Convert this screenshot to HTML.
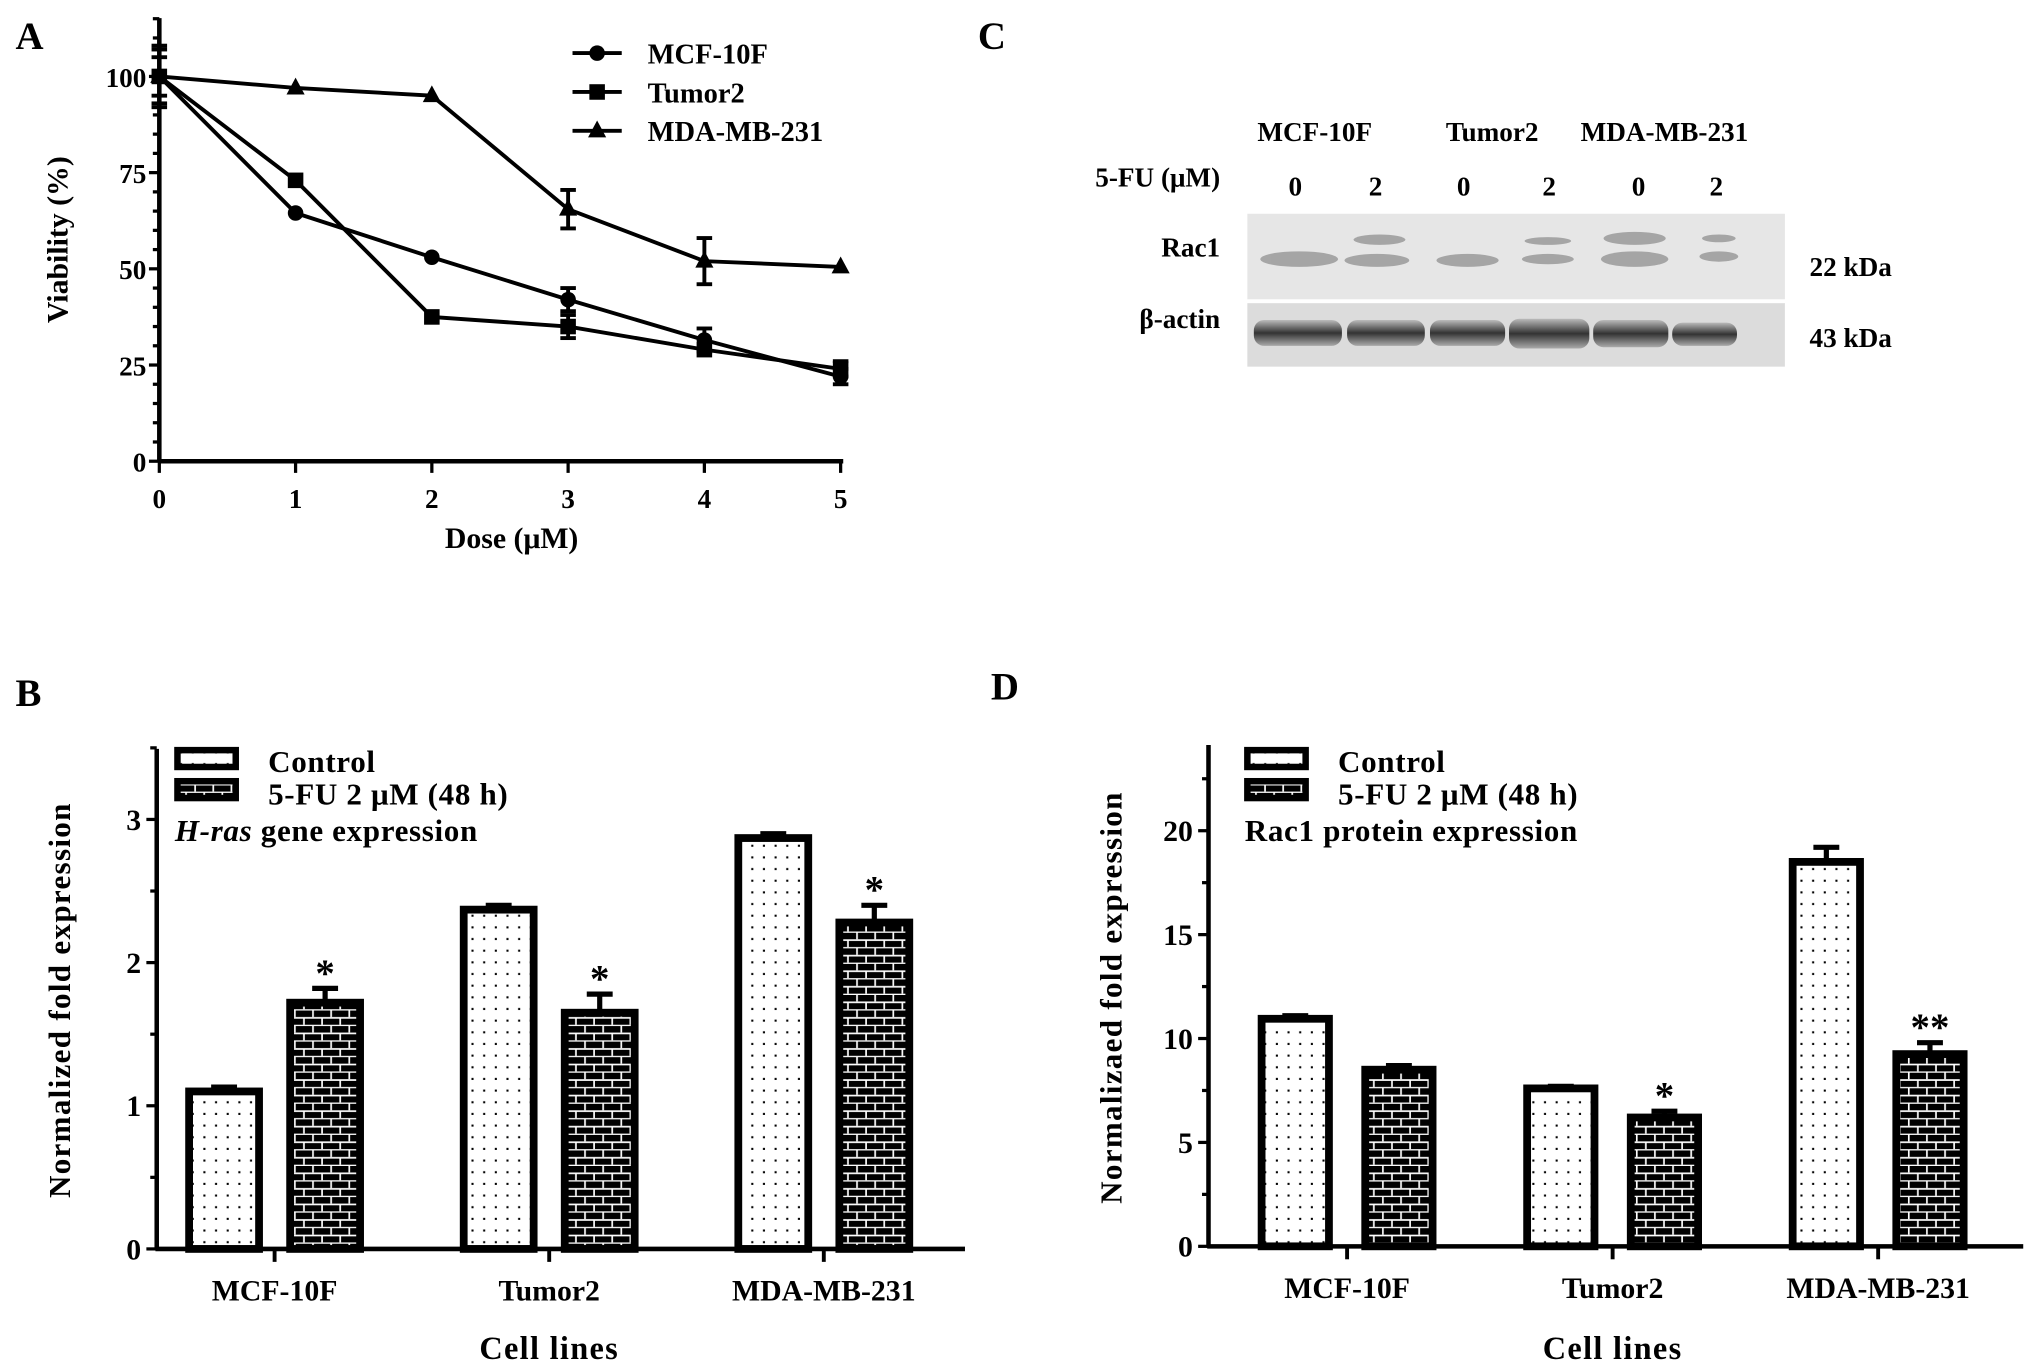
<!DOCTYPE html>
<html><head><meta charset="utf-8"><style>
html,body{margin:0;padding:0;background:#fff;}
svg{display:block;font-family:"Liberation Serif",serif;font-weight:bold;}
</style></head><body>
<svg id="fig" width="2031" height="1372" viewBox="0 0 1568 1059" preserveAspectRatio="none" xmlns="http://www.w3.org/2000/svg">
<defs>
<pattern id="dots" width="9" height="9" patternUnits="userSpaceOnUse"><rect width="9" height="9" fill="#fff"/><rect x="4" y="4" width="1.6" height="1.6" fill="#000"/></pattern>
<pattern id="brick" width="14" height="12" patternUnits="userSpaceOnUse"><rect width="14" height="12" fill="#000"/><rect x="0" y="5" width="14" height="1.3" fill="#fff"/><rect x="0" y="11" width="14" height="1.3" fill="#fff"/><rect x="3" y="0" width="1.3" height="5" fill="#fff"/><rect x="10" y="6" width="1.3" height="5" fill="#fff"/></pattern>
<linearGradient id="band" x1="0" y1="0" x2="0" y2="1"><stop offset="0" stop-color="#bbb"/><stop offset="0.5" stop-color="#333"/><stop offset="1" stop-color="#aaa"/></linearGradient>
</defs>
<text x="12" y="38" font-size="30">A</text>
<text x="755" y="38" font-size="30">C</text>
<text x="12" y="545" font-size="30">B</text>
<text x="765" y="540" font-size="30">D</text>
<g id="pa"></g>
<g id="pb"></g>
<g id="pd"></g>
<g id="pc">
<text x="1015" y="109" font-size="21" text-anchor="middle">MCF-10F</text>
<text x="1152" y="109" font-size="21" text-anchor="middle">Tumor2</text>
<text x="1285" y="109" font-size="21" text-anchor="middle">MDA-MB-231</text>
<text x="942" y="144" font-size="21" text-anchor="end">5-FU (μM)</text>
<g font-size="21" text-anchor="middle">
<text x="1000" y="151">0</text><text x="1062" y="151">2</text><text x="1130" y="151">0</text><text x="1196" y="151">2</text><text x="1265" y="151">0</text><text x="1325" y="151">2</text>
</g>
<rect x="963" y="165" width="415" height="66" fill="#e6e6e6"/>
<g fill="#8a8a8a" opacity="0.7">
<ellipse cx="1003" cy="200" rx="30" ry="6"/><ellipse cx="1063" cy="201" rx="25" ry="5"/><ellipse cx="1065" cy="185" rx="20" ry="4"/>
<ellipse cx="1133" cy="201" rx="24" ry="5"/><ellipse cx="1195" cy="200" rx="20" ry="4"/><ellipse cx="1195" cy="186" rx="18" ry="3"/>
<ellipse cx="1262" cy="200" rx="26" ry="6"/><ellipse cx="1262" cy="184" rx="24" ry="5"/><ellipse cx="1327" cy="198" rx="15" ry="4"/><ellipse cx="1327" cy="184" rx="13" ry="3"/>
</g>
<rect x="963" y="234" width="415" height="49" fill="#dcdcdc"/>
<g fill="url(#band)">
<rect x="968" y="247" width="68" height="20" rx="8"/><rect x="1040" y="247" width="60" height="20" rx="8"/><rect x="1104" y="247" width="58" height="20" rx="8"/>
<rect x="1165" y="246" width="62" height="23" rx="8"/><rect x="1230" y="247" width="58" height="21" rx="8"/><rect x="1291" y="249" width="50" height="18" rx="8"/>
</g>
<text x="942" y="198" font-size="21" text-anchor="end">Rac1</text>
<text x="942" y="253" font-size="21" text-anchor="end">β-actin</text>
<text x="1397" y="213" font-size="21">22 kDa</text>
<text x="1397" y="268" font-size="21">43 kDa</text>
</g>
</svg>
<script>
// Panel A data
const doses = [0, 1, 2, 3, 4, 5];
const aSeriesNames = ["MCF-10F", "Tumor2", "MDA-MB-231"];
const mcfViability = [100, 64.5, 53, 42, 31.5, 22];
const mcfErr = [7, 1, 1, 3, 3, 2];
const tumorViability = [100, 73, 37.5, 35, 29, 24];
const tumorErr = [5, 1, 1, 3, 1, 2];
const mdaViability = [100, 97, 95, 65.5, 52, 50.5];
const mdaErr = [8, 0.5, 0.5, 5, 6, 0.5];
const aYTicks = [0, 25, 50, 75, 100];
// Panel B data
const cellLines = ["MCF-10F", "Tumor2", "MDA-MB-231"];
const hrasControl = [1.1, 2.37, 2.87];
const hrasControlErr = [0.03, 0.03, 0.03];
const hrasTreated = [1.72, 1.65, 2.28];
const hrasTreatedErr = [0.1, 0.13, 0.12];
const hrasSig = ["*", "*", "*"];
const bYTicks = [0, 1, 2, 3];
// Panel D data
const racControl = [10.95, 7.6, 18.5];
const racControlErr = [0.15, 0.1, 0.7];
const racTreated = [8.5, 6.2, 9.25];
const racTreatedErr = [0.2, 0.3, 0.55];
const racSig = ["", "*", "**"];
const dYTicks = [0, 5, 10, 15, 20];

const NS = "http://www.w3.org/2000/svg";
function mk(parent, tag, attrs, text) {
  const e = document.createElementNS(NS, tag);
  for (const k in attrs) e.setAttribute(k, attrs[k]);
  if (text !== undefined) e.textContent = text;
  parent.appendChild(e);
  return e;
}

// ---- Panel A ----
(function () {
  const g = document.getElementById("pa");
  const X0 = 123, X1 = 649, Y0 = 356, Y100 = 59;
  const xs = d => X0 + (X1 - X0) * d / 5;
  const ys = v => Y0 - (Y0 - Y100) * v / 100;
  const yax = mk(g, "line", { x1: X0, y1: 14, x2: X0, y2: Y0, stroke: "#000", "stroke-width": 3.5 });
  
  
  const xax = mk(g, "line", { x1: X0 - 1, y1: Y0, x2: X1 + 2, y2: Y0, stroke: "#000", "stroke-width": 3.5 });
  
  
  for (let v = 0; v <= 115; v += 5) {
    const major = v % 25 === 0;
    mk(g, "line", { x1: X0 - (major ? 8 : 5), y1: ys(v), x2: X0, y2: ys(v), stroke: "#000", "stroke-width": 2.5 });
  }
  aYTicks.forEach(v => {
    const t = mk(g, "text", { x: X0 - 10, y: ys(v) + 8, "font-size": 21, "text-anchor": "end" }, String(v));
    
    
  });
  doses.forEach(d => {
    mk(g, "line", { x1: xs(d), y1: Y0, x2: xs(d), y2: Y0 + 9, stroke: "#000", "stroke-width": 2.5 });
    const t = mk(g, "text", { x: xs(d), y: Y0 + 36, "font-size": 21, "text-anchor": "middle" }, String(d));
    
    
  });
  const xt = mk(g, "text", { x: 395, y: 423, "font-size": 23, "text-anchor": "middle" }, "Dose (μM)");
  
  
  const yt = mk(g, "text", { x: 0, y: 0, "font-size": 23, "text-anchor": "middle", transform: "translate(52,185) rotate(-90)" }, "Viability (%)");
  
  
  const series = [[mcfViability, mcfErr, "circle"], [tumorViability, tumorErr, "square"], [mdaViability, mdaErr, "triangle"]];
  function marker(p, shape, x, y) {
    if (shape === "circle") return mk(p, "circle", { cx: x, cy: y, r: 6, fill: "#000" });
    if (shape === "square") return mk(p, "rect", { x: x - 6, y: y - 6, width: 12, height: 12, fill: "#000" });
    return mk(p, "polygon", { points: `${x},${y - 8} ${x - 7},${y + 5} ${x + 7},${y + 5}`, fill: "#000" });
  }
  series.forEach((s, i) => {
    const sg = mk(g, "g", {});
    
    
    const pts = doses.map((d, j) => xs(d) + "," + ys(s[0][j])).join(" ");
    mk(sg, "polyline", { points: pts, fill: "none", stroke: "#000", "stroke-width": 3 });
    doses.forEach((d, j) => {
      const x = xs(d), e = s[1][j];
      if (e > 1) {
        mk(sg, "line", { x1: x, y1: ys(s[0][j] + e), x2: x, y2: ys(s[0][j] - e), stroke: "#000", "stroke-width": 3 });
        mk(sg, "line", { x1: x - 6, y1: ys(s[0][j] + e), x2: x + 6, y2: ys(s[0][j] + e), stroke: "#000", "stroke-width": 3 });
        mk(sg, "line", { x1: x - 6, y1: ys(s[0][j] - e), x2: x + 6, y2: ys(s[0][j] - e), stroke: "#000", "stroke-width": 3 });
      }
      const m = marker(sg, s[2], x, ys(s[0][j]));
      
      
    });
    const ly = 41 + i * 30;
    const lg = mk(g, "g", {});
    
    
    mk(lg, "line", { x1: 442, y1: ly, x2: 480, y2: ly, stroke: "#000", "stroke-width": 3 });
    marker(lg, s[2], 461, ly);
    mk(lg, "text", { x: 500, y: ly + 8, "font-size": 22 }, aSeriesNames[i]);
  });
})();

// ---- Bar charts ----
function barChart(gid, cfg) {
  const g = document.getElementById(gid);
  const ys = v => cfg.Y0 - cfg.unit * v;
  const yax = mk(g, "line", { x1: cfg.X0, y1: cfg.top, x2: cfg.X0, y2: cfg.Y0, stroke: "#000", "stroke-width": 3.5 });
  
  
  const xax = mk(g, "line", { x1: cfg.X0 - 1, y1: cfg.Y0, x2: cfg.X1, y2: cfg.Y0, stroke: "#000", "stroke-width": 3.5 });
  
  
  for (let v = 0; ys(v) >= cfg.top - 1; v += cfg.minor) {
    const major = Math.abs(v / cfg.major - Math.round(v / cfg.major)) < 1e-6;
    mk(g, "line", { x1: cfg.X0 - (major ? 8 : 5), y1: ys(v), x2: cfg.X0, y2: ys(v), stroke: "#000", "stroke-width": 2.5 });
  }
  cfg.ticks.forEach(v => {
    const t = mk(g, "text", { x: cfg.X0 - 12, y: ys(v) + 8, "font-size": 23, "text-anchor": "end" }, String(v));
    
    
  });
  cellLines.forEach((c, i) => {
    const cx = cfg.c0 + cfg.step * i;
    mk(g, "line", { x1: cx, y1: cfg.Y0, x2: cx, y2: cfg.Y0 + 10, stroke: "#000", "stroke-width": 3 });
    const t = mk(g, "text", { x: cx, y: cfg.Y0 + 40, "font-size": 23, "text-anchor": "middle" }, c);
    
    
    [[cfg.ctrl, cfg.ctrlErr, "url(#dots)", -1], [cfg.trt, cfg.trtErr, "url(#brick)", 1]].forEach((s, k) => {
      const x = cx + s[3] * cfg.off - cfg.bw / 2, v = s[0][i];
      const e = s[1][i];
      mk(g, "line", { x1: x + cfg.bw / 2, y1: ys(v), x2: x + cfg.bw / 2, y2: ys(v + e), stroke: "#000", "stroke-width": 4 });
      mk(g, "line", { x1: x + cfg.bw / 2 - 10, y1: ys(v + e), x2: x + cfg.bw / 2 + 10, y2: ys(v + e), stroke: "#000", "stroke-width": 4 });
      const b = mk(g, "rect", { x: x, y: ys(v), width: cfg.bw, height: cfg.Y0 - ys(v), fill: s[2], stroke: "#000", "stroke-width": 6 });
      
      
      if (k === 1 && cfg.sig[i]) {
        const st = mk(g, "text", { x: x + cfg.bw / 2, y: ys(v + e) - 2, "font-size": 30, "text-anchor": "middle" }, cfg.sig[i]);
        
        
      }
    });
  });
  const xt = mk(g, "text", { x: cfg.c0 + cfg.step, y: 1049, "font-size": 25, "text-anchor": "middle", "letter-spacing": 1 }, "Cell lines");
  
  
  const yt = mk(g, "text", { x: 0, y: 0, "font-size": 24, "text-anchor": "middle", "letter-spacing": 1, transform: `translate(${cfg.ytx},${cfg.yty}) rotate(-90)` }, cfg.ytitle);
  
  
  const L = cfg.lx;
  const l1 = mk(g, "g", {});
  
  
  mk(l1, "rect", { x: L + 2, y: 579, width: 45, height: 13, fill: "url(#dots)", stroke: "#000", "stroke-width": 5 });
  mk(l1, "text", { x: L + 72, y: 596, "font-size": 24, "letter-spacing": 0.5 }, "Control");
  const l2 = mk(g, "g", {});
  
  
  mk(l2, "rect", { x: L + 2, y: 603, width: 45, height: 13, fill: "url(#brick)", stroke: "#000", "stroke-width": 5 });
  mk(l2, "text", { x: L + 72, y: 621, "font-size": 24, "letter-spacing": 0.5 }, "5-FU 2 μM (48 h)");
  const st = mk(g, "text", { x: L, y: 649, "font-size": 24, "letter-spacing": 0.5 });
  
  
  if (cfg.italic) {
    mk(st, "tspan", { "font-style": "italic" }, cfg.italic);
  }
  mk(st, "tspan", {}, cfg.sub);
}
barChart("pb", { X0: 121, X1: 745, Y0: 964, top: 578, unit: 110.5, minor: 0.5, major: 1, ticks: bYTicks,
  c0: 212, step: 212, off: 39, bw: 54, ctrl: hrasControl, ctrlErr: hrasControlErr, trt: hrasTreated, trtErr: hrasTreatedErr,
  sig: hrasSig, ytitle: "Normalized fold expression", ytx: 54, yty: 772, lx: 135, italic: "H-ras", sub: " gene expression" });
barChart("pd", { X0: 933, X1: 1562, Y0: 962, top: 575, unit: 16.04, minor: 2.5, major: 5, ticks: dYTicks,
  c0: 1040, step: 205, off: 40, bw: 52, ctrl: racControl, ctrlErr: racControlErr, trt: racTreated, trtErr: racTreatedErr,
  sig: racSig, ytitle: "Normalizaed fold expression", ytx: 866, yty: 770, lx: 961, italic: "", sub: "Rac1 protein expression" });
</script>
</body></html>
